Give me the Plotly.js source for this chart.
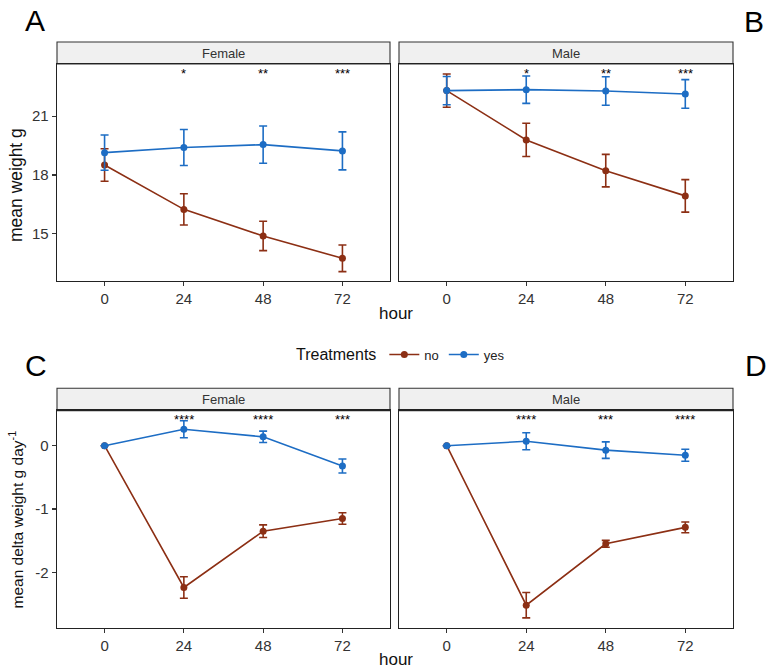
<!DOCTYPE html>
<html>
<head>
<meta charset="utf-8">
<script src="https://cdn.plot.ly/plotly-3.0.1.min.js"></script>
<style>html,body{margin:0;padding:0;background:#fff;}#chart{width:768px;height:672px;}</style>
</head>
<body>
<div id="chart"></div>
<script>
const hours = [0, 24, 48, 72];
const treatments = ['no', 'yes'];
const sexes = ['Female', 'Male'];

const femaleWeightNo = [18.51, 16.24, 14.88, 13.74];
const femaleWeightNoErr = [0.83, 0.80, 0.75, 0.68];
const femaleWeightYes = [19.14, 19.40, 19.55, 19.23];
const femaleWeightYesErr = [0.90, 0.92, 0.95, 0.97];
const maleWeightNo = [22.31, 19.79, 18.22, 16.93];
const maleWeightNoErr = [0.85, 0.85, 0.83, 0.83];
const maleWeightYes = [22.31, 22.36, 22.29, 22.14];
const maleWeightYesErr = [0.72, 0.70, 0.73, 0.73];

const femaleDeltaNo = [0, -2.24, -1.35, -1.15];
const femaleDeltaNoErr = [0, 0.17, 0.10, 0.09];
const femaleDeltaYes = [0, 0.26, 0.14, -0.32];
const femaleDeltaYesErr = [0, 0.135, 0.09, 0.11];
const maleDeltaNo = [0, -2.52, -1.55, -1.29];
const maleDeltaNoErr = [0, 0.20, 0.055, 0.085];
const maleDeltaYes = [0, 0.07, -0.07, -0.15];
const maleDeltaYesErr = [0, 0.135, 0.13, 0.095];

const femaleWeightSig = ['', '*', '**', '***'];
const maleWeightSig = ['', '*', '**', '***'];
const femaleDeltaSig = ['', '****', '****', '***'];
const maleDeltaSig = ['', '****', '***', '****'];

const weightTicks = [15, 18, 21];
const weightTickText = ['15', '18', '21'];
const deltaTicks = [-2, -1, 0];
const deltaTickText = ['-2', '-1', '0'];

const colNo = '#8C2F14';
const colYes = '#1D6DC4';
const W = 768, H = 672;
const FONT = 'Liberation Sans, Arial, sans-serif';

function tr(y, err, name, color, xa, ya, showlegend) {
  return {
    x: hours, y: y, name: name, type: 'scatter', mode: 'lines+markers',
    xaxis: xa, yaxis: ya, showlegend: showlegend, legendgroup: name,
    line: {color: color, width: 1.6},
    marker: {color: color, size: 7},
    error_y: {type: 'data', array: err, visible: true, color: color, thickness: 1.6, width: 4},
    hoverinfo: 'skip'
  };
}

const data = [
  tr(femaleWeightNo, femaleWeightNoErr, treatments[0], colNo, 'x', 'y', true),
  tr(femaleWeightYes, femaleWeightYesErr, treatments[1], colYes, 'x', 'y', true),
  tr(maleWeightNo, maleWeightNoErr, treatments[0], colNo, 'x2', 'y2', false),
  tr(maleWeightYes, maleWeightYesErr, treatments[1], colYes, 'x2', 'y2', false),
  tr(femaleDeltaNo, femaleDeltaNoErr, treatments[0], colNo, 'x3', 'y3', false),
  tr(femaleDeltaYes, femaleDeltaYesErr, treatments[1], colYes, 'x3', 'y3', false),
  tr(maleDeltaNo, maleDeltaNoErr, treatments[0], colNo, 'x4', 'y4', false),
  tr(maleDeltaYes, maleDeltaYesErr, treatments[1], colYes, 'x4', 'y4', false)
];

// pixel geometry -> paper
const px = v => v / W;
const py = v => 1 - v / H;
const colL = [57, 390], colR = [399, 733];
const rowT = [64, 281], rowB = [410.7, 627.7];
const stripT = [42, 64], stripB = [388.3, 410.7];

function xax(dom, anchor) {
  return {
    domain: [px(dom[0]), px(dom[1])], anchor: anchor,
    range: [-14.4, 86.4], tickvals: hours, ticktext: hours.map(String),
    showgrid: false, zeroline: false, showline: true, mirror: true,
    linecolor: '#222', linewidth: 1.3, ticks: 'outside', ticklen: 4,
    tickcolor: '#333', tickwidth: 1.1,
    tickfont: {family: FONT, size: 15, color: '#333'}, fixedrange: true
  };
}
function yax(dom, anchor, range, labels, tv, tt) {
  return {
    domain: [py(dom[1]), py(dom[0])], anchor: anchor, range: range,
    tickvals: tv, ticktext: tt, showticklabels: labels, ticks: labels ? 'outside' : '',
    ticklen: 4, tickcolor: '#333', tickwidth: 1.1,
    showgrid: false, zeroline: false, showline: true, mirror: true,
    linecolor: '#222', linewidth: 1.3,
    tickfont: {family: FONT, size: 15, color: '#333'}, fixedrange: true
  };
}

const wRange = [12.58, 23.67];
const dRange = [-2.875, 0.553];

const shapes = [];
const annotations = [];
[[colL, stripT, sexes[0]], [colR, stripT, sexes[1]], [colL, stripB, sexes[0]], [colR, stripB, sexes[1]]].forEach(s => {
  shapes.push({type: 'rect', xref: 'paper', yref: 'paper', x0: px(s[0][0]), x1: px(s[0][1]),
    y0: py(s[1][1]), y1: py(s[1][0]), fillcolor: '#F0F0F0', line: {color: '#333', width: 1.1}, layer: 'below'});
  annotations.push({xref: 'paper', yref: 'paper', x: px((s[0][0] + s[0][1]) / 2), y: py((s[1][0] + s[1][1]) / 2),
    text: s[2], showarrow: false, font: {family: FONT, size: 13, color: '#333'}, xanchor: 'center', yanchor: 'middle'});
});

function sig(labels, xa, ya, ypos) {
  labels.forEach((t, i) => {
    if (!t) return;
    annotations.push({xref: xa, yref: ya + ' domain', x: hours[i], y: ypos, text: t, showarrow: false,
      font: {family: FONT, size: 13, color: '#000000'}, xanchor: 'center', yanchor: 'middle'});
  });
}
sig(femaleWeightSig, 'x', 'y', 0.955);
sig(maleWeightSig, 'x2', 'y2', 0.955);
sig(femaleDeltaSig, 'x3', 'y3', 0.958);
sig(maleDeltaSig, 'x4', 'y4', 0.958);

// panel letters
[['A', 35, 20], ['B', 754, 22], ['C', 36, 366], ['D', 756, 365]].forEach(l => {
  annotations.push({xref: 'paper', yref: 'paper', x: px(l[1]), y: py(l[2]), text: l[0], showarrow: false,
    font: {family: FONT, size: 30, color: '#000'}, xanchor: 'center', yanchor: 'middle'});
});

// axis titles
annotations.push({xref: 'paper', yref: 'paper', x: px(395.5), y: py(313), text: 'hour', showarrow: false,
  font: {family: FONT, size: 17, color: '#111'}, xanchor: 'center', yanchor: 'middle'});
annotations.push({xref: 'paper', yref: 'paper', x: px(395.5), y: py(659), text: 'hour', showarrow: false,
  font: {family: FONT, size: 17, color: '#111'}, xanchor: 'center', yanchor: 'middle'});
annotations.push({xref: 'paper', yref: 'paper', x: px(16), y: py(185), text: 'mean weight g', showarrow: false,
  textangle: -90, font: {family: FONT, size: 17.5, color: '#111'}, xanchor: 'center', yanchor: 'middle'});
annotations.push({xref: 'paper', yref: 'paper', x: px(16), y: py(519.5), text: 'mean delta weight g day<sup>-1</sup>', showarrow: false,
  textangle: -90, font: {family: FONT, size: 15.5, color: '#111'}, xanchor: 'center', yanchor: 'middle'});

const layout = {
  width: W, height: H,
  margin: {l: 0, r: 0, t: 0, b: 0},
  paper_bgcolor: '#fff', plot_bgcolor: '#fff',
  font: {family: FONT},
  showlegend: true,
  legend: {
    orientation: 'h', x: px(294), y: py(355), xanchor: 'left', yanchor: 'middle',
    title: {text: 'Treatments', side: 'left', font: {family: FONT, size: 16, color: '#111'}},
    font: {family: FONT, size: 13, color: '#222'}, itemwidth: 30, bgcolor: 'rgba(0,0,0,0)'
  },
  xaxis: xax(colL, 'y'),
  xaxis2: xax(colR, 'y2'),
  xaxis3: xax(colL, 'y3'),
  xaxis4: xax(colR, 'y4'),
  yaxis: yax(rowT, 'x', wRange, true, weightTicks, weightTickText),
  yaxis2: yax(rowT, 'x2', wRange, false, weightTicks, weightTickText),
  yaxis3: yax(rowB, 'x3', dRange, true, deltaTicks, deltaTickText),
  yaxis4: yax(rowB, 'x4', dRange, false, deltaTicks, deltaTickText),
  shapes: shapes,
  annotations: annotations
};

Plotly.newPlot('chart', data, layout, {staticPlot: true, displayModeBar: false});
</script>
</body>
</html>
